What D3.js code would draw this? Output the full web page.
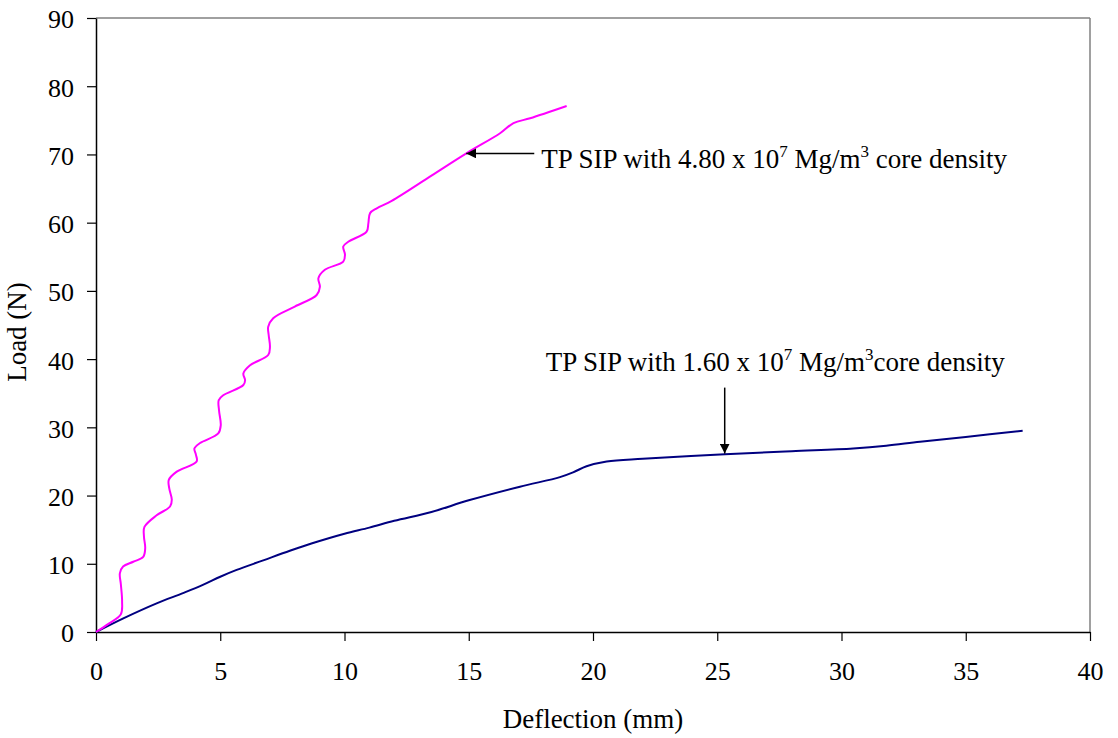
<!DOCTYPE html>
<html>
<head>
<meta charset="utf-8">
<script src="https://cdn.jsdelivr.net/npm/d3@7"></script>
<style>
  body { margin: 0; background: #fff; }
  svg text { font-family: "Liberation Serif", "Times New Roman", serif; fill: #000; }
</style>
</head>
<body>
<div id="chart"></div>
<script>
// Load-deflection curves, values

const xTicks = [0, 5, 10, 15, 20, 25, 30, 35, 40];
const yTicks = [0, 10, 20, 30, 40, 50, 60, 70, 80, 90];

// TP SIP, 4.80 x 10^7 core density (deflection mm, load N)
const highDensity = [
    [0, 0], [0.5, 1.2], [1.0, 2.6], [1.05, 4.5], [1.0, 7.0], [0.96, 8.6], [1.09, 9.6],
    [1.5, 10.3], [1.9, 11.0], [1.98, 12.3], [1.93, 14.0], [1.95, 15.4], [2.44, 17.1],
    [2.98, 18.4], [3.05, 19.4], [2.95, 21.0], [2.93, 22.3], [3.25, 23.5], [4.05, 25.0],
    [4.02, 26.0], [3.96, 26.9], [4.19, 27.7], [4.92, 29.1], [5.02, 30.3], [4.95, 32.5],
    [4.94, 34.0], [5.12, 34.7], [5.93, 36.2], [6.0, 36.9], [5.93, 37.9], [6.2, 39.1],
    [6.93, 40.6], [7.0, 41.8], [6.95, 43.5], [6.93, 44.75], [7.13, 46.0], [8.0, 47.7],
    [8.88, 49.4], [9.01, 50.6], [8.95, 51.85], [9.21, 53.1], [9.95, 54.3], [10.02, 55.3],
    [9.95, 56.5], [10.15, 57.2], [10.89, 58.7], [10.96, 59.9], [11.03, 61.4], [11.3, 62.1],
    [11.9, 63.2], [13.5, 66.9], [14.92, 70.2], [16.26, 73.1], [16.8, 74.6], [17.47, 75.3],
    [18.94, 77.1]
];

// TP SIP, 1.60 x 10^7 core density
const lowDensity = [
    [0, 0], [1.1, 2.0], [2.44, 4.2], [3.5, 5.7], [4.3, 6.9], [5.0, 8.1], [5.66, 9.1], [6.73, 10.5],
    [7.8, 11.9], [8.7, 13.0], [10, 14.4], [11, 15.3], [12, 16.3], [13.5, 17.6], [15, 19.3],
    [17.06, 21.3], [18.67, 22.7], [19.2, 23.4], [19.74, 24.3], [20.55, 25.0], [22, 25.4],
    [25.31, 26.05], [28, 26.5], [30.47, 26.9], [31.8, 27.3], [33.16, 27.9], [35, 28.6],
    [37.29, 29.5]
];

// arrow tips: [x, y] in data units
const highArrowTip = [14.9, 70.15];
const lowArrowTip = [25.3, 26.15];

const W = 1118, H = 738;
const margin = { top: 18, right: 28, bottom: 106, left: 96 };
const width = W - margin.left - margin.right;
const height = H - margin.top - margin.bottom;

const svg = d3.select("#chart").append("svg")
    .attr("width", W)
    .attr("height", H);

const g = svg.append("g")
    .attr("transform", `translate(${margin.left},${margin.top})`);

const x = d3.scaleLinear().domain([0, 40]).range([0, width]);
const y = d3.scaleLinear().domain([0, 90]).range([height, 0]);

// frame: grey top and right
g.append("line")
    .attr("x1", 0).attr("x2", width).attr("y1", 0).attr("y2", 0)
    .attr("stroke", "#808080").attr("stroke-width", 1.5);
g.append("line")
    .attr("x1", width).attr("x2", width).attr("y1", 0).attr("y2", height)
    .attr("stroke", "#808080").attr("stroke-width", 1.5);

// axes
const xAxis = g.append("g")
    .attr("transform", `translate(0,${height})`)
    .call(d3.axisBottom(x).tickValues(xTicks).tickSize(9).tickPadding(16).tickSizeOuter(0));

const yAxis = g.append("g")
    .call(d3.axisLeft(y).tickValues(yTicks).tickSize(9).tickPadding(13).tickSizeOuter(0));

[xAxis, yAxis].forEach(a => {
    a.select(".domain").attr("stroke", "#000").attr("stroke-width", 1.5);
    a.selectAll(".tick line").attr("stroke", "#000").attr("stroke-width", 1.2);
    a.selectAll(".tick text")
        .attr("font-family", "Liberation Serif, Times New Roman, serif")
        .attr("font-size", "26px")
        .attr("fill", "#000");
});
xAxis.selectAll(".tick text").attr("dy", "0.9em");
yAxis.selectAll(".tick text").attr("dy", "0.38em");

// axis titles
g.append("text")
    .attr("x", width / 2)
    .attr("y", height + 96)
    .attr("text-anchor", "middle")
    .attr("font-size", "27px")
    .text("Deflection (mm)");

g.append("text")
    .attr("transform", "rotate(-90)")
    .attr("x", -314)
    .attr("y", -70)
    .attr("text-anchor", "middle")
    .attr("font-size", "27px")
    .text("Load (N)");

// curves
const line = d3.line()
    .x(d => x(d[0]))
    .y(d => y(d[1]))
    .curve(d3.curveCatmullRom.alpha(0.5));

g.append("path")
    .datum(lowDensity)
    .attr("fill", "none")
    .attr("stroke", "#000080")
    .attr("stroke-width", 2)
    .attr("d", line);

g.append("path")
    .datum(highDensity)
    .attr("fill", "none")
    .attr("stroke", "#ff00ff")
    .attr("stroke-width", 2)
    .attr("d", line);

// arrowhead
svg.append("defs").append("marker")
    .attr("id", "head")
    .attr("viewBox", "0 0 10 10")
    .attr("refX", 10).attr("refY", 5)
    .attr("markerWidth", 10).attr("markerHeight", 10)
    .attr("markerUnits", "userSpaceOnUse")
    .attr("orient", "auto")
    .append("path")
    .attr("d", "M0,0 L10,5 L0,10 Z")
    .attr("fill", "#000");

// text with raised exponents
function label(lx, ly, parts) {
    const txt = g.append("text")
        .attr("x", lx).attr("y", ly)
        .attr("font-size", "27px");
    let shift = 0;
    parts.forEach(p => {
        const ts = txt.append("tspan").text(p.t);
        if (p.sup) {
            ts.attr("dy", -11).attr("font-size", "17px");
            shift = 11;
        } else if (shift) {
            ts.attr("dy", shift);
            shift = 0;
        }
    });
    return txt;
}

// annotation: high density
const hx = x(highArrowTip[0]), hy = y(highArrowTip[1]);
g.append("line")
    .attr("x1", hx + 68).attr("y1", hy)
    .attr("x2", hx).attr("y2", hy)
    .attr("stroke", "#000").attr("stroke-width", 1.5)
    .attr("marker-end", "url(#head)");

label(hx + 75, hy + 15, [
    { t: "TP SIP with 4.80 x 10" }, { t: "7", sup: true }, { t: " Mg/m" },
    { t: "3", sup: true }, { t: " core density" }
]);

// annotation: low density
const lx = x(lowArrowTip[0]), ly = y(lowArrowTip[1]);
g.append("line")
    .attr("x1", lx).attr("y1", ly - 66)
    .attr("x2", lx).attr("y2", ly)
    .attr("stroke", "#000").attr("stroke-width", 1.5)
    .attr("marker-end", "url(#head)");

label(lx - 179, ly - 83, [
    { t: "TP SIP with 1.60 x 10" }, { t: "7", sup: true }, { t: " Mg/m" },
    { t: "3", sup: true }, { t: "core density" }
]);
</script>
</body>
</html>
